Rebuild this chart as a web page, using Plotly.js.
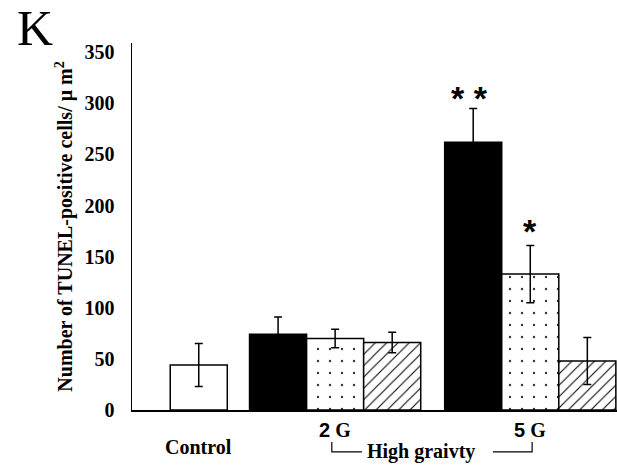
<!DOCTYPE html>
<html>
<head>
<meta charset="utf-8">
<script src="https://cdn.plot.ly/plotly-3.0.1.min.js"></script>
<style>html,body{margin:0;padding:0;background:#fff;}#chart{width:617px;height:468px;}</style>
</head>
<body>
<div id="chart"></div>
<script>
// Data
var groups = ['Control', '2 G', '5 G'];
var controlValue = [44];
var controlErr = [21];
var blackValues = [74, 262];      // 2 G, 5 G
var blackErr = [17, 33];
var dottedValues = [70, 133];
var dottedErr = [9, 28];
var hatchedValues = [66, 48];
var hatchedErr = [10, 23];
var yTicks = [0, 50, 100, 150, 200, 250, 300, 350];

// layout helpers (group centres in bar-width units)
var groupCenters = [1.17, 3.56, 6.98];
var serif = 'Liberation Serif, Times New Roman, serif';
var sans = 'Liberation Sans, Arial, sans-serif';

function errObj(arr){
  return {type:'data', array:arr, visible:true, color:'#000', thickness:1.5, width:4};
}
var lineStyle = {color:'#000', width:1.5};

var traces = [
  {type:'bar', x:[groupCenters[0]], y:controlValue, width:1,
   marker:{color:'#fff', line:lineStyle}, error_y:errObj(controlErr)},
  {type:'bar', x:[groupCenters[1]-1, groupCenters[2]-1], y:blackValues, width:1,
   marker:{color:'#000', line:lineStyle}, error_y:errObj(blackErr)},
  {type:'bar', x:[groupCenters[1], groupCenters[2]], y:dottedValues, width:1,
   marker:{color:'#fff', line:lineStyle,
     pattern:{shape:'.', fgcolor:'#333', bgcolor:'#fff', size:12, solidity:0.03}},
   error_y:errObj(dottedErr)},
  {type:'bar', x:[groupCenters[1]+1, groupCenters[2]+1], y:hatchedValues, width:1,
   marker:{color:'#fff', line:lineStyle,
     pattern:{shape:'/', fgcolor:'#000', bgcolor:'#fff', size:8, solidity:0.13}},
   error_y:errObj(hatchedErr)}
];

var layout = {
  width:617, height:468,
  margin:{l:132, r:0, t:43, b:58},
  paper_bgcolor:'#fff', plot_bgcolor:'#fff',
  showlegend:false,
  barmode:'overlay',
  xaxis:{range:[0, 8.5], showgrid:false, zeroline:false, showticklabels:false,
         showline:true, linecolor:'#000', linewidth:1.5, ticks:'', fixedrange:true},
  yaxis:{range:[0, 359], tickvals:yTicks, ticktext:yTicks.map(String), showgrid:false, zeroline:false,
         showline:true, linecolor:'#000', linewidth:1.5, ticks:'', ticklabelstandoff:12,
         tickfont:{family:serif, size:20, weight:'bold', color:'#000'},
         title:{text:'Number of TUNEL-positive cells/ \u03bc m<sup>2</sup>', standoff:6,
                font:{family:serif, size:20, weight:'bold', color:'#000'}}},
  annotations:[
    {text:'K', xref:'paper', yref:'paper', x:-0.200, y:1.042, xanchor:'center', yanchor:'middle',
     showarrow:false, font:{family:serif, size:50, color:'#000'}},
    {text:'Control', xref:'x', yref:'paper', x:groupCenters[0], y:-0.1, xanchor:'center', yanchor:'middle',
     showarrow:false, font:{family:serif, size:20, weight:'bold', color:'#000'}},
    {text:'<span style="font-family:Liberation Sans">2</span> G', xref:'x', yref:'paper', x:groupCenters[1], y:-0.055,
     xanchor:'center', yanchor:'middle', showarrow:false, font:{family:serif, size:20, weight:'bold', color:'#000'}},
    {text:'<span style="font-family:Liberation Sans">5</span> G', xref:'x', yref:'paper', x:groupCenters[2], y:-0.055,
     xanchor:'center', yanchor:'middle', showarrow:false, font:{family:serif, size:20, weight:'bold', color:'#000'}},
    {text:'High graivty', xref:'paper', yref:'paper', x:0.596, y:-0.114, xanchor:'center', yanchor:'middle',
     showarrow:false, font:{family:serif, size:20, weight:'bold', color:'#000'}},
    {text:'* *', xref:'x', yref:'y', x:groupCenters[2]-1.07, y:blackValues[1]+blackErr[1]+10, xanchor:'center', yanchor:'middle',
     showarrow:false, font:{family:sans, size:34, weight:'bold', color:'#000'}},
    {text:'*', xref:'x', yref:'y', x:groupCenters[2], y:dottedValues[1]+dottedErr[1]+14, xanchor:'center', yanchor:'middle',
     showarrow:false, font:{family:sans, size:34, weight:'bold', color:'#000'}}
  ],
  shapes:[
    {type:'path', xref:'paper', yref:'paper', path:'M 0.412 -0.087 L 0.412 -0.114 L 0.474 -0.114',
     line:{color:'#000', width:1.2}},
    {type:'path', xref:'paper', yref:'paper', path:'M 0.744 -0.114 L 0.825 -0.114 L 0.825 -0.087',
     line:{color:'#000', width:1.2}}
  ]
};

Plotly.newPlot('chart', traces, layout, {displayModeBar:false, staticPlot:true});
</script>
</body>
</html>
